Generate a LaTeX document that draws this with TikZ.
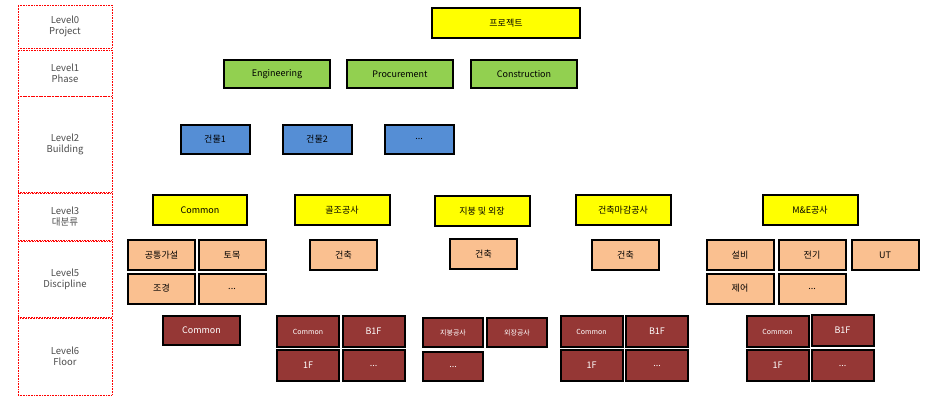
\documentclass[tikz,border=0pt]{standalone}
\usepackage{fontspec}
\setmainfont{Noto Sans CJK KR}
\definecolor{yel}{HTML}{FFFF00}
\definecolor{grn}{HTML}{92D050}
\definecolor{blu}{HTML}{558ED5}
\definecolor{org}{HTML}{FAC090}
\definecolor{brn}{HTML}{953735}
\begin{document}
\begin{tikzpicture}[x=1pt,y=-1pt,
 bx/.style={draw=black,line width=2pt,minimum width=#1,inner sep=0pt,font=\fontsize{9}{10}\selectfont},
 yb/.style={bx=95pt,fill=yel,minimum height=30pt},
 gb/.style={bx=106pt,fill=grn,minimum height=28pt},
 bb/.style={bx=69pt,fill=blu,minimum height=29pt},
 ob/.style={bx=67pt,fill=org,minimum height=30pt},
 rb/.style={bx=62pt,fill=brn,minimum height=31pt,text=white},
 sm/.style={font=\fontsize{7}{8}\selectfont},
 lv/.style={draw=red,densely dotted,line width=0.6pt,minimum width=94pt,inner sep=0pt,align=center,text=black!70,font=\fontsize{9.5}{11}\selectfont}]
\useasboundingbox (0,0) rectangle (950,405);
% level labels
\node[lv,minimum height=43pt] (l0) at (65,26.5) {Level0\\Project};
\node[lv,minimum height=46pt] (l1) at (65,73) {Level1\\Phase};
\node[lv,minimum height=96pt] (l2) at (65,144) {Level2\\Building};
\node[lv,minimum height=47pt] (l3) at (65,216.5) {Level3\\대분류};
\node[lv,minimum height=76pt] (l5) at (65,279) {Level5\\Discipline};
\node[lv,minimum height=77pt] (l6) at (65,356.5) {Level6\\Floor};
% level 0,1,2
\node[yb,minimum width=148pt] (p) at (506,23) {프로젝트};
\node[gb] (e) at (277,74) {Engineering};
\node[gb] (pr) at (400,74) {Procurement};
\node[gb] (c) at (524,74) {Construction};
\node[bb] (b1) at (215,139) {건물1};
\node[bb] (b2) at (317,139) {건물2};
\node[bb] (b3) at (419,139) {...};
% level 3
\node[yb,minimum width=94pt] (y1) at (200,210) {Common};
\node[yb] (y2) at (342,210) {골조공사};
\node[yb] (y3) at (482,211) {지붕 및 외장};
\node[yb] (y4) at (623,210) {건축마감공사};
\node[yb] (y5) at (810,210) {M\&E공사};
% level 5
\node[ob] (o1) at (161.5,255) {공통가설};
\node[ob] (o2) at (232,255) {토목};
\node[ob] (o3) at (161.5,288.5) {조경};
\node[ob] (o4) at (232,288.5) {...};
\node[ob] (o5) at (343.5,255) {건축};
\node[ob] (o6) at (483.5,254) {건축};
\node[ob] (o7) at (625.5,255) {건축};
\node[ob] (o8) at (740,255) {설비};
\node[ob] (o9) at (812,255) {전기};
\node[ob] (o10) at (885,255) {UT};
\node[ob] (o11) at (740,288.5) {제어};
\node[ob] (o12) at (812,288.5) {...};
% level 6
\node[rb,minimum width=77pt,minimum height=29pt] (r1) at (201.5,330.5) {Common};
\node[rb,sm] (r2) at (308,331.5) {Common};
\node[rb] (r3) at (373.5,331.5) {B1F};
\node[rb] (r4) at (308,365.5) {1F};
\node[rb] (r5) at (373.5,365.5) {...};
\node[rb,minimum width=60pt,minimum height=29pt,sm] (r6) at (453,332.5) {지붕공사};
\node[rb,minimum width=60pt,minimum height=29pt,sm] (r7) at (517,332.5) {외장공사};
\node[rb,minimum width=60pt,minimum height=29pt] (r8) at (453,366.5) {...};
\node[rb,sm] (r9) at (591.5,331.5) {Common};
\node[rb] (r10) at (657,331.5) {B1F};
\node[rb] (r11) at (591.5,365.5) {1F};
\node[rb] (r12) at (657,365.5) {...};
\node[rb,sm] (r13) at (777.5,331.5) {Common};
\node[rb] (r14) at (842.5,330) {B1F};
\node[rb] (r15) at (777.5,365.5) {1F};
\node[rb] (r16) at (842.5,365.5) {...};
\end{tikzpicture}
\end{document}
